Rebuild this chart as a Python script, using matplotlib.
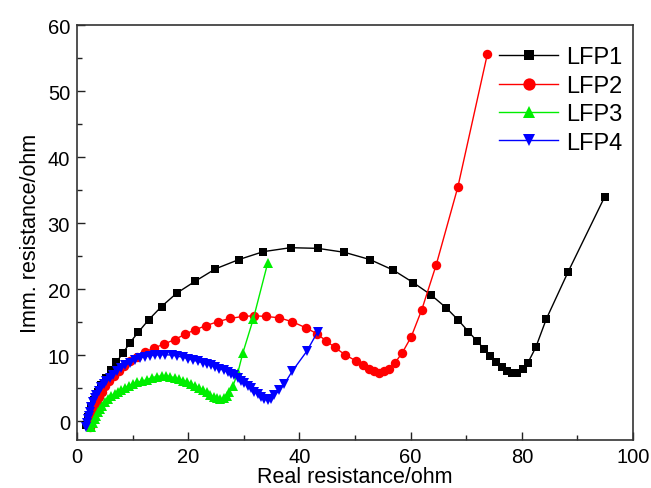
import matplotlib
matplotlib.use("Agg")
import matplotlib.pyplot as plt
from matplotlib.ticker import MultipleLocator

plt.rcParams['font.family'] = ['Liberation Sans', 'DejaVu Sans']

# Nyquist data: real vs. imaginary resistance (ohm)
lfp1_x = [1.7, 2.0, 2.5, 3.1, 3.8, 4.4, 5.3, 6.1, 7.1, 8.3, 9.5, 11.0, 12.9, 15.2, 17.9,
          21.2, 24.9, 29.1, 33.5, 38.4, 43.3, 48.1, 52.7, 56.9, 60.5, 63.6, 66.4, 68.5,
          70.4, 71.9, 73.2, 74.3, 75.4, 76.5, 77.4, 78.3, 79.2, 80.2, 81.1, 82.5, 84.4,
          88.3, 94.9]
lfp1_y = [-0.6, 0.7, 2.0, 3.2, 4.5, 5.5, 6.6, 7.8, 9.0, 10.4, 11.9, 13.5, 15.4, 17.4, 19.4,
          21.2, 23.1, 24.5, 25.7, 26.3, 26.2, 25.6, 24.5, 22.9, 21.0, 19.2, 17.2, 15.4,
          13.6, 12.2, 11.0, 9.9, 9.0, 8.3, 7.7, 7.4, 7.4, 8.0, 8.9, 11.2, 15.5,
          22.6, 34.0]

lfp2_x = [2.4, 2.6, 2.9, 3.2, 3.6, 4.0, 4.5, 5.1, 5.8, 6.6, 7.5, 8.5, 9.6, 10.8, 12.2,
          13.8, 15.6, 17.6, 19.4, 21.3, 23.2, 25.3, 27.5, 29.9, 31.9, 33.9, 36.3, 38.7,
          41.1, 43.1, 44.8, 46.4, 48.2, 50.1, 51.5, 52.6, 53.5, 54.4, 55.3, 56.2, 57.2,
          58.5, 60.1, 62.0, 64.6, 68.5, 73.8]
lfp2_y = [-0.8, 0.2, 1.1, 2.0, 2.9, 3.7, 4.5, 5.3, 6.1, 6.9, 7.7, 8.4, 9.1, 9.8, 10.5,
          11.1, 11.7, 12.4, 13.2, 13.9, 14.5, 15.1, 15.6, 15.9, 16.0, 15.9, 15.7, 15.1,
          14.2, 13.3, 12.2, 11.2, 10.1, 9.2, 8.5, 7.9, 7.6, 7.4, 7.6, 8.0, 8.9,
          10.4, 12.8, 16.9, 23.7, 35.5, 55.6]

lfp3_x = [2.6, 2.9, 3.2, 3.5, 3.8, 4.1, 4.5, 5.0, 5.6, 6.2, 6.8, 7.4, 8.0, 8.6, 9.3,
          10.1, 10.8, 11.6, 12.5, 13.4, 14.3, 15.2, 16.0, 16.8, 17.6, 18.4, 19.1, 19.8,
          20.5, 21.2, 21.9, 22.6, 23.3, 24.0, 24.6, 25.2, 25.8, 26.4, 26.9, 27.4, 28.0,
          28.9, 29.8, 31.7, 34.3]
lfp3_y = [-0.8, -0.2, 0.4, 0.9, 1.4, 1.9, 2.4, 2.9, 3.4, 3.8, 4.2, 4.5, 4.8, 5.1, 5.4,
          5.7, 5.9, 6.1, 6.3, 6.6, 6.8, 6.9, 6.9, 6.8, 6.6, 6.4, 6.2, 6.0,
          5.7, 5.4, 5.1, 4.7, 4.4, 4.0, 3.7, 3.5, 3.4, 3.5, 3.8, 4.4, 5.3,
          7.3, 10.3, 15.5, 24.0]

lfp4_x = [1.7, 1.8, 1.9, 2.1, 2.3, 2.6, 2.9, 3.2, 3.5, 3.9, 4.4, 4.9, 5.3, 5.9, 6.5,
          7.2, 8.0, 8.7, 9.5, 10.4, 11.3, 12.2, 13.1, 14.0, 14.9, 15.9, 17.0, 18.0,
          19.1, 20.0, 20.8, 21.7, 22.6, 23.4, 24.1, 24.9, 25.6, 26.4, 27.1, 27.7, 28.3,
          28.9, 29.5, 30.1, 30.7, 31.3, 31.9, 32.5, 33.1, 33.7, 34.3, 34.9, 35.5, 36.4,
          37.3, 38.7, 41.3, 43.3]
lfp4_y = [-0.9, -0.3, 0.3, 0.9, 1.5, 2.2, 2.9, 3.5, 4.0, 4.6, 5.2, 5.7, 6.1, 6.6, 7.1,
          7.6, 8.1, 8.5, 8.9, 9.3, 9.6, 9.8, 9.95, 10.05, 10.1, 10.1, 10.05, 9.9,
          9.7, 9.5, 9.3, 9.1, 8.9, 8.7, 8.5, 8.25, 8.0, 7.75, 7.5, 7.25, 7.0,
          6.6, 6.2, 5.8, 5.4, 5.0, 4.5, 4.1, 3.7, 3.4, 3.2, 3.4, 4.0, 4.7,
          5.7, 7.6, 10.6, 13.6]

series = [
    ("LFP1", lfp1_x, lfp1_y, "black", "s", 5.5),
    ("LFP2", lfp2_x, lfp2_y, "#ff0000", "o", 6.8),
    ("LFP3", lfp3_x, lfp3_y, "#00ee00", "^", 7.0),
    ("LFP4", lfp4_x, lfp4_y, "#0000ff", "v", 7.0),
]

fig = plt.figure(figsize=(6.51, 4.89), dpi=100)
ax = fig.add_axes([0.1183, 0.0982, 0.8541, 0.8486])

for name, xs, ys, col, mk, ms in series:
    ax.plot(xs, ys, color=col, marker=mk, markersize=ms, linewidth=1.0,
            markeredgewidth=0, label=name)

ax.set_xlim(0, 100)
ax.set_ylim(-2.8, 60)
ax.xaxis.set_major_locator(MultipleLocator(20))
ax.xaxis.set_minor_locator(MultipleLocator(10))
ax.yaxis.set_major_locator(MultipleLocator(10))
ax.yaxis.set_minor_locator(MultipleLocator(5))
ax.tick_params(which='both', direction='in', top=False, right=False,
               labelsize=14.5, width=1.0, color='#222222')
ax.tick_params(which='major', length=6, pad=5)
ax.tick_params(which='minor', length=3.5)
for sp in ax.spines.values():
    sp.set_linewidth(1.2)
    sp.set_color('#333333')

ax.set_xlabel("Real resistance/ohm", fontsize=15.5, labelpad=0)
ax.set_ylabel("Imm. resistance/ohm", fontsize=15.5, labelpad=5)

ax.legend(loc='upper left', bbox_to_anchor=(0.7665, 0.903),
          bbox_transform=fig.transFigure, frameon=False, fontsize=17,
          handlelength=2.5, handletextpad=0.35, labelspacing=0.27,
          markerscale=1.3, borderpad=0, borderaxespad=0)

fig.savefig("out.png", dpi=100)
